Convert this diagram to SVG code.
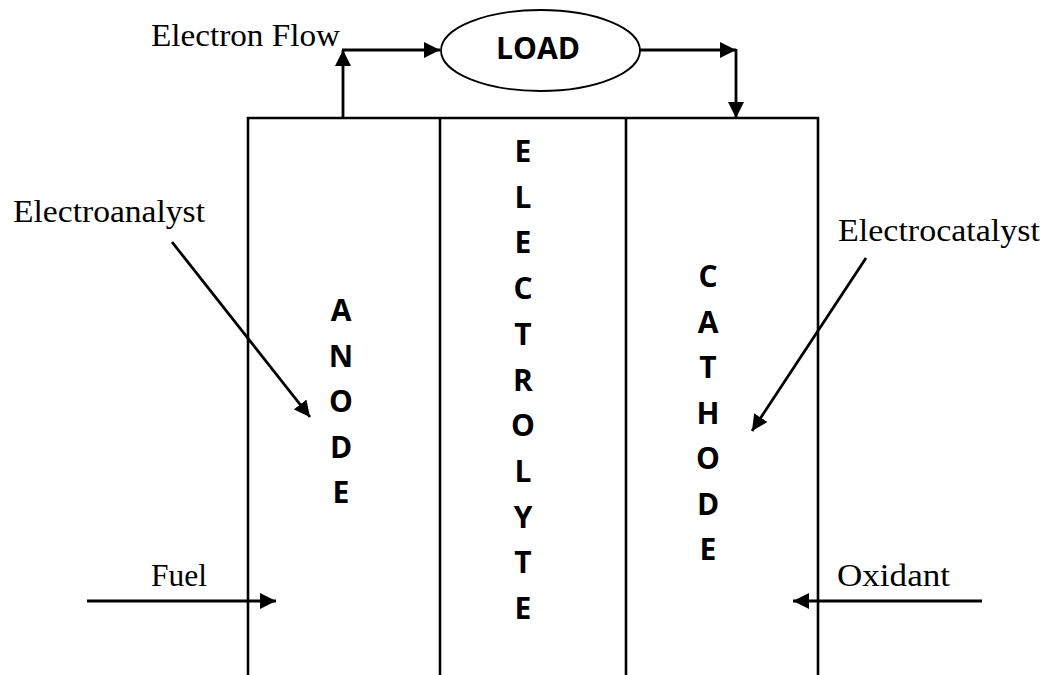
<svg xmlns="http://www.w3.org/2000/svg" width="1051" height="675" viewBox="0 0 1051 675">
<defs>
<style>
.lbl{font-family:"Liberation Serif","Times New Roman",serif;font-size:31px;fill:#000}
.big{font-family:"Open Sans","Liberation Sans",Arial,sans-serif;font-weight:bold;font-size:30px;fill:#000;text-anchor:middle}
.wall{stroke:#000;stroke-width:2.6;fill:none}
.conn{stroke:#000;stroke-width:2.8;fill:none}
</style>
<marker id="ah" markerUnits="userSpaceOnUse" markerWidth="17" markerHeight="16" refX="16" refY="8" orient="auto">
<path d="M0,0 L16,8 L0,16 Z" fill="#000"/>
</marker>
</defs>
<rect width="1051" height="675" fill="#fff"/>
<g id="cell">
<line class="wall" x1="247" y1="118" x2="819" y2="118"/>
<line class="wall" x1="248" y1="117" x2="248" y2="675"/>
<line class="wall" x1="440" y1="118" x2="440" y2="675"/>
<line class="wall" x1="626" y1="118" x2="626" y2="675"/>
<line class="wall" x1="818" y1="117" x2="818" y2="675"/>
</g>
<g id="anode">
<text class="big" x="341" y="321">A</text>
<text class="big" x="341" y="366.5">N</text>
<text class="big" x="341" y="412">O</text>
<text class="big" x="341" y="457.5">D</text>
<text class="big" x="341" y="503">E</text>
</g>
<g id="electrolyte">
<text class="big" x="523" y="162">E</text>
<text class="big" x="523" y="207.7">L</text>
<text class="big" x="523" y="253.4">E</text>
<text class="big" x="523" y="299.1">C</text>
<text class="big" x="523" y="344.8">T</text>
<text class="big" x="523" y="390.5">R</text>
<text class="big" x="523" y="436.2">O</text>
<text class="big" x="523" y="481.9">L</text>
<text class="big" x="523" y="527.6">Y</text>
<text class="big" x="523" y="573.3">T</text>
<text class="big" x="523" y="619">E</text>
</g>
<g id="cathode">
<text class="big" x="708" y="287">C</text>
<text class="big" x="708" y="332.5">A</text>
<text class="big" x="708" y="378">T</text>
<text class="big" x="708" y="423.5">H</text>
<text class="big" x="708" y="469">O</text>
<text class="big" x="708" y="514.5">D</text>
<text class="big" x="708" y="560">E</text>
</g>
<g id="load">
<ellipse cx="540.5" cy="50.5" rx="99.5" ry="40.5" fill="#fff" stroke="#000" stroke-width="1.8"/>
<text class="big" x="538" y="59" font-size="34" textLength="84" lengthAdjust="spacingAndGlyphs">LOAD</text>
</g>
<g id="labels">
<text class="lbl" x="151" y="46" textLength="189" lengthAdjust="spacingAndGlyphs">Electron Flow</text>
<text class="lbl" x="13" y="222" textLength="192" lengthAdjust="spacingAndGlyphs">Electroanalyst</text>
<text class="lbl" x="838" y="241" textLength="202" lengthAdjust="spacingAndGlyphs">Electrocatalyst</text>
<text class="lbl" x="151" y="586" textLength="56" lengthAdjust="spacingAndGlyphs">Fuel</text>
<text class="lbl" x="837" y="586" textLength="113" lengthAdjust="spacingAndGlyphs">Oxidant</text>
</g>
<g id="connectors">
<line class="conn" x1="343" y1="118" x2="343" y2="50" marker-end="url(#ah)"/>
<line class="conn" x1="342" y1="50" x2="440" y2="50" marker-end="url(#ah)"/>
<line class="conn" x1="640" y1="50" x2="736" y2="50" marker-end="url(#ah)"/>
<line class="conn" x1="736" y1="49" x2="736" y2="118" marker-end="url(#ah)"/>
<line class="conn" x1="172" y1="242" x2="310" y2="417" marker-end="url(#ah)"/>
<line class="conn" x1="866" y1="258" x2="752" y2="431" marker-end="url(#ah)"/>
<line class="conn" x1="87" y1="601" x2="276" y2="601" marker-end="url(#ah)"/>
<line class="conn" x1="982" y1="601" x2="793" y2="601" marker-end="url(#ah)"/>
</g>
</svg>
